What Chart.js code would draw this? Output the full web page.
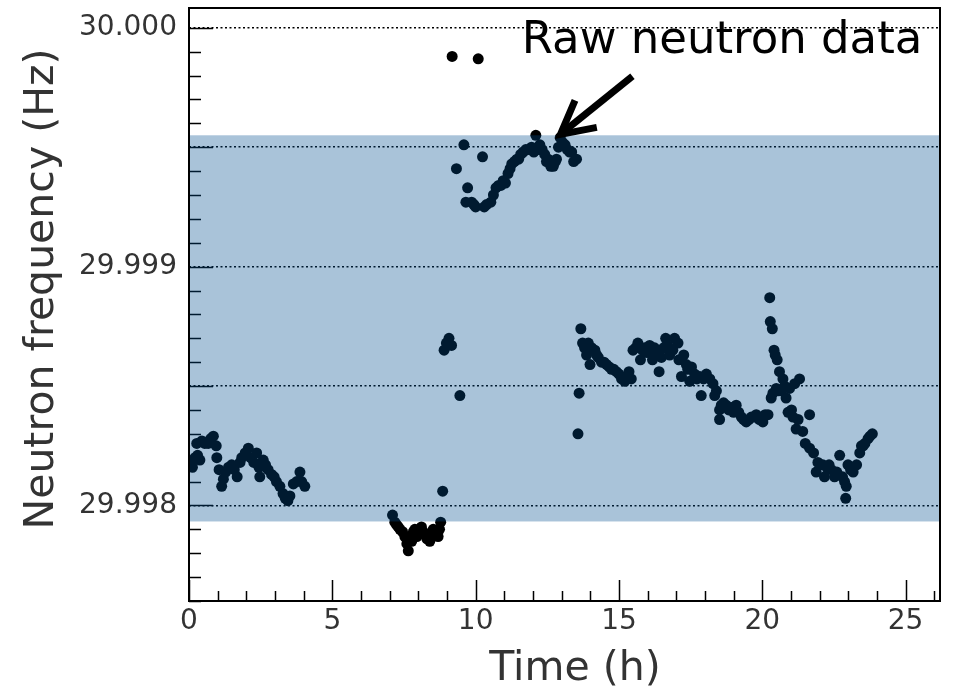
<!DOCTYPE html>
<html>
<head>
<meta charset="utf-8">
<script src="https://cdn.jsdelivr.net/npm/chart.js@4.4.1/dist/chart.umd.min.js"></script>
<style>
    html, body { margin: 0; padding: 0; background: #fff; }
    #wrap { width: 962px; height: 692px; }
</style>
</head>
<body>
<div id="wrap"><canvas id="chart"></canvas></div>
<script>
// Time of each measurement (h)
const timeH = [
    0.03, 0.12, 0.21, 0.30, 0.38, 0.27, 0.45, 0.55, 0.67, 0.76, 0.85, 0.95, 0.97, 1.05, 1.14, 1.20,
    1.28, 1.38, 1.49, 1.58, 1.68, 1.78, 1.84, 1.96, 2.07, 2.15, 2.26, 2.36, 2.44, 2.47, 2.59, 2.67,
    2.76, 2.88, 2.97, 3.05, 3.17, 3.28, 3.36, 3.45, 3.52, 3.64, 3.76, 3.87, 3.93, 4.04,

    7.10, 7.18, 7.24, 7.30, 7.36, 7.45, 7.53, 7.60, 7.65, 7.72, 7.77, 7.83, 7.88, 7.95, 8.00, 8.06,
    8.11, 8.17, 8.23, 8.30, 8.40, 8.46, 8.52, 8.60, 8.69, 8.74, 8.78, 8.85, 8.90, 8.98, 9.07, 9.16,
    9.18, 9.45, 10.09,

    9.33, 9.59, 9.66, 9.72, 9.86, 9.94, 10.00, 10.24, 10.30, 10.38, 10.53, 10.62, 10.71, 10.80, 10.88, 10.96,
    11.04, 11.13, 11.20, 11.26, 11.35, 11.44, 11.50, 11.57, 11.66, 11.75, 11.86, 11.95, 12.03, 12.10, 12.18, 12.24,
    12.32, 12.41, 12.47, 12.53, 12.62, 12.71, 12.78, 12.82, 12.89, 12.95, 13.03, 13.12, 13.20, 13.28, 13.35, 13.42,
    13.52,

    13.57, 13.61, 13.67, 13.73, 13.80, 13.87, 13.93, 13.99, 14.05, 14.16, 14.22, 14.28, 14.39, 14.48, 14.57, 14.66,
    14.74, 14.82, 14.91, 15.00, 15.09, 15.20, 15.28, 15.35, 15.43, 15.49, 15.58, 15.66, 15.75, 15.82, 15.90, 15.98,
    16.07, 16.17, 16.24, 16.31, 16.40, 16.48, 16.56, 16.63, 16.70, 16.77, 16.88, 16.94, 17.06, 17.09, 17.18, 17.26,
    17.35, 17.40, 17.47, 17.53, 17.64, 17.72, 17.82, 17.87, 17.95, 18.05, 18.17, 18.28, 18.34, 18.40, 18.51, 18.51,
    18.57, 18.65, 18.74, 18.83, 18.92, 19.00, 19.09, 19.18, 19.27, 19.35, 19.44, 19.53, 19.62, 19.73, 19.79, 19.90,
    20.02, 20.10, 20.20,

    20.26, 20.28, 20.31, 20.35, 20.37, 20.41, 20.45, 20.49, 20.52, 20.56, 20.60, 20.66, 20.72, 20.78, 20.83, 20.90,
    20.95, 21.02, 21.07, 21.13, 21.18, 21.25, 21.30, 21.41, 21.50, 21.65, 21.65, 21.79, 21.88, 21.94, 22.02, 22.11,
    22.17, 22.25, 22.33, 22.41, 22.52, 22.60, 22.70, 22.80, 22.87, 22.93, 22.91, 22.99, 23.08, 23.17, 23.29, 23.40,
    23.46, 23.52, 23.58, 23.69, 23.76, 23.84
];

// Neutron frequency of each measurement (Hz)
const freqHz = [
    29.99818, 29.99816, 29.99820, 29.99821, 29.99819, 29.99826, 29.99827, 29.99826, 29.99826, 29.99828, 29.99829, 29.99825, 29.99820, 29.99815, 29.99808, 29.99811,
    29.99814, 29.99816, 29.99817, 29.99815, 29.99812, 29.99818, 29.99820, 29.99822, 29.99824, 29.99820, 29.99818, 29.99822, 29.99816, 29.99812, 29.99819, 29.99817,
    29.99815, 29.99813, 29.99812, 29.99810, 29.99808, 29.99805, 29.99803, 29.99802, 29.99804, 29.99809, 29.99810, 29.99814, 29.99810, 29.99808,

    29.99796, 29.99793, 29.99792, 29.99791, 29.99790, 29.99789, 29.99787, 29.99784, 29.99781, 29.99787, 29.99785, 29.99789, 29.99790, 29.99787, 29.99788, 29.99790,
    29.99791, 29.99789, 29.99788, 29.99786, 29.99785, 29.99788, 29.99790, 29.99789, 29.99787, 29.99790, 29.99793, 29.99806, 29.99865, 29.99868, 29.99870, 29.99867,
    29.99988, 29.99846, 29.99987,

    29.99941, 29.99951, 29.99927, 29.99933, 29.99927, 29.99926, 29.99925, 29.99946, 29.99925, 29.99926, 29.99927, 29.99930, 29.99933, 29.99934, 29.99934, 29.99936,
    29.99935, 29.99939, 29.99941, 29.99943, 29.99944, 29.99945, 29.99945, 29.99947, 29.99948, 29.99949, 29.99949, 29.99950, 29.99948, 29.99955, 29.99949, 29.99951,
    29.99949, 29.99947, 29.99944, 29.99945, 29.99942, 29.99942, 29.99944, 29.99945, 29.99950, 29.99954, 29.99952, 29.99951, 29.99949, 29.99948, 29.99948, 29.99944,
    29.99945,

    29.99830, 29.99847, 29.99874, 29.99868, 29.99866, 29.99863, 29.99868, 29.99859, 29.99866, 29.99865, 29.99863, 29.99862, 29.99860, 29.99860, 29.99859, 29.99858,
    29.99857, 29.99857, 29.99856, 29.99855, 29.99853, 29.99852, 29.99854, 29.99856, 29.99853, 29.99865, 29.99866, 29.99868, 29.99861, 29.99865, 29.99866, 29.99864,
    29.99867, 29.99861, 29.99866, 29.99864, 29.99856, 29.99862, 29.99866, 29.99870, 29.99867, 29.99863, 29.99865, 29.99870, 29.99868, 29.99861, 29.99854, 29.99863,
    29.99859, 29.99857, 29.99852, 29.99858, 29.99855, 29.99853, 29.99854, 29.99846, 29.99853, 29.99855, 29.99853, 29.99851, 29.99846, 29.99848, 29.99840, 29.99836,
    29.99842, 29.99843, 29.99842, 29.99840, 29.99841, 29.99839, 29.99842, 29.99839, 29.99837, 29.99836, 29.99835, 29.99836, 29.99837, 29.99837, 29.99838, 29.99836,
    29.99835, 29.99838, 29.99838,

    29.99887, 29.99877, 29.99845, 29.99874, 29.99847, 29.99865, 29.99863, 29.99849, 29.99861, 29.99848, 29.99856, 29.99848, 29.99853, 29.99850, 29.99845, 29.99839,
    29.99849, 29.99840, 29.99837, 29.99851, 29.99832, 29.99836, 29.99853, 29.99831, 29.99826, 29.99838, 29.99824, 29.99822, 29.99814, 29.99818, 29.99817, 29.99817,
    29.99812, 29.99816, 29.99817, 29.99815, 29.99812, 29.99814, 29.99821, 29.99812, 29.99810, 29.99808, 29.99803, 29.99817, 29.99815, 29.99814, 29.99817, 29.99822,
    29.99825, 29.99825, 29.99826, 29.99828, 29.99829, 29.99830
];

// Axis ticks
const xTickLabels = [0, 5, 10, 15, 20, 25];
const xMinorTicks = [0, 1, 2, 3, 4, 5, 6, 7, 8, 9, 10, 11, 12, 13, 14, 15, 16, 17, 18, 19, 20, 21, 22, 23, 24, 25, 26];
const yTickLabels = [29.998, 29.999, 30.000];
const yGridValues = [29.998, 29.9985, 29.999, 29.9995, 30.000];
const yMinorTicks = [
    29.9976, 29.9977, 29.9978, 29.9979, 29.9980, 29.9981, 29.9982, 29.9983, 29.9984, 29.9985, 29.9986, 29.9987,
    29.9988, 29.9989, 29.9990, 29.9991, 29.9992, 29.9993, 29.9994, 29.9995, 29.9996, 29.9997, 29.9998, 29.9999, 30.0000
];

// Shaded band (Hz)
const bandLow = 29.997933;
const bandHigh = 29.99955;

// Annotation
const noteText = 'Raw neutron data';
const notePos = { x: 11.61, y: 29.999894 };
const arrowTail = { x: 15.47, y: 29.999797 };
const arrowTip = { x: 12.96, y: 29.999554 };

const FONT = '"DejaVu Sans", sans-serif';

function isMajor(v, list) {
    return list.some((t) => Math.abs(t - v) < 1e-7);
}

// Inward ROOT-style tick marks, drawn under the band.
const tickPlugin = {
    id: 'ticks',
    beforeDatasetsDraw(chart) {
        const { ctx, chartArea, scales } = chart;
        ctx.save();
        ctx.strokeStyle = '#000';
        ctx.lineWidth = 1.5;
        ctx.beginPath();
        xMinorTicks.forEach((v) => {
            const px = Math.round(scales.x.getPixelForValue(v)) + 0.5;
            const len = v % 5 === 0 ? 21 : 10;
            ctx.moveTo(px, chartArea.bottom);
            ctx.lineTo(px, chartArea.bottom - len);
        });
        yMinorTicks.forEach((v) => {
            const py = Math.round(scales.y.getPixelForValue(v)) + 0.5;
            const len = isMajor(v, yGridValues) ? 24 : 12;
            ctx.moveTo(chartArea.left, py);
            ctx.lineTo(chartArea.left + len, py);
        });
        ctx.stroke();
        ctx.restore();
    }
};

// Translucent band laid over the points.
const bandPlugin = {
    id: 'band',
    afterDatasetsDraw(chart) {
        const { ctx, chartArea, scales } = chart;
        const top = scales.y.getPixelForValue(bandHigh);
        const bottom = scales.y.getPixelForValue(bandLow);
        ctx.save();
        ctx.fillStyle = 'rgba(0, 77, 142, 0.337)';
        ctx.fillRect(chartArea.left, top, chartArea.right - chartArea.left, bottom - top);
        ctx.restore();
    }
};

function drawArrow(ctx, x0, y0, x1, y1) {
    const ang = Math.atan2(y0 - y1, x0 - x1);
    const head = 37;
    const spread = 28 * Math.PI / 180;
    ctx.beginPath();
    ctx.moveTo(x0, y0);
    ctx.lineTo(x1, y1);
    ctx.stroke();
    ctx.beginPath();
    ctx.moveTo(x1 + head * Math.cos(ang - spread), y1 + head * Math.sin(ang - spread));
    ctx.lineTo(x1, y1);
    ctx.lineTo(x1 + head * Math.cos(ang + spread), y1 + head * Math.sin(ang + spread));
    ctx.stroke();
}

// Frame, axis titles and the annotation.
const overlayPlugin = {
    id: 'overlay',
    afterDraw(chart) {
        const { ctx, chartArea, scales } = chart;
        ctx.save();

        ctx.strokeStyle = '#000';
        ctx.lineWidth = 2;
        ctx.strokeRect(chartArea.left, chartArea.top, chartArea.right - chartArea.left, chartArea.bottom - chartArea.top);

        ctx.fillStyle = '#333';
        ctx.font = `41px ${FONT}`;
        ctx.textAlign = 'center';
        ctx.textBaseline = 'alphabetic';
        ctx.fillText('Time (h)', 575, 680);

        ctx.save();
        ctx.translate(53, 289);
        ctx.rotate(-Math.PI / 2);
        ctx.fillText('Neutron frequency (Hz)', 0, 0);
        ctx.restore();

        ctx.fillStyle = '#000';
        ctx.font = `45px ${FONT}`;
        ctx.textAlign = 'left';
        ctx.fillText(noteText, scales.x.getPixelForValue(notePos.x), scales.y.getPixelForValue(notePos.y));

        ctx.strokeStyle = '#000';
        ctx.lineWidth = 7;
        ctx.lineCap = 'butt';
        ctx.lineJoin = 'miter';
        drawArrow(
            ctx,
            scales.x.getPixelForValue(arrowTail.x), scales.y.getPixelForValue(arrowTail.y),
            scales.x.getPixelForValue(arrowTip.x), scales.y.getPixelForValue(arrowTip.y)
        );

        ctx.restore();
    }
};

function renderChart() {
    const points = timeH.map((t, i) => ({ x: t, y: freqHz[i] }));

    const ctx = document.getElementById('chart');
    new Chart(ctx, {
        type: 'scatter',
        data: {
            datasets: [{
                data: points,
                pointRadius: 5.5,
                pointBackgroundColor: '#000',
                pointBorderWidth: 0,
                clip: 0
            }]
        },
        options: {
            responsive: true,
            maintainAspectRatio: false,
            animation: false,
            events: [],
            layout: { padding: { top: 8, right: 22, left: 0, bottom: 0 } },
            plugins: { legend: { display: false }, tooltip: { enabled: false } },
            scales: {
                x: {
                    type: 'linear',
                    min: 0,
                    max: 26.2,
                    afterFit: (scale) => {
                        scale.height = 91;
                        scale.paddingLeft = 0;
                        scale.paddingRight = 0;
                    },
                    afterBuildTicks: (scale) => { scale.ticks = xTickLabels.map((v) => ({ value: v })); },
                    grid: { display: false, drawTicks: false },
                    border: { display: false },
                    ticks: {
                        autoSkip: false,
                        maxRotation: 0,
                        padding: 4,
                        color: '#333',
                        font: { family: FONT, size: 28 },
                        callback: (v) => String(v)
                    }
                },
                y: {
                    type: 'linear',
                    min: 29.9976,
                    max: 30.000083,
                    afterFit: (scale) => {
                        scale.width = 189;
                        scale.paddingTop = 0;
                        scale.paddingBottom = 0;
                    },
                    afterBuildTicks: (scale) => { scale.ticks = yGridValues.map((v) => ({ value: v })); },
                    grid: { color: '#000', lineWidth: 1.5, drawTicks: false },
                    border: { display: false, dash: [2, 2.5] },
                    ticks: {
                        autoSkip: false,
                        padding: 12,
                        color: '#333',
                        font: { family: FONT, size: 28 },
                        callback: (v) => isMajor(v, yTickLabels) ? v.toFixed(3) : ''
                    }
                }
            }
        },
        plugins: [tickPlugin, bandPlugin, overlayPlugin]
    });
}

renderChart();
</script>
</body>
</html>
